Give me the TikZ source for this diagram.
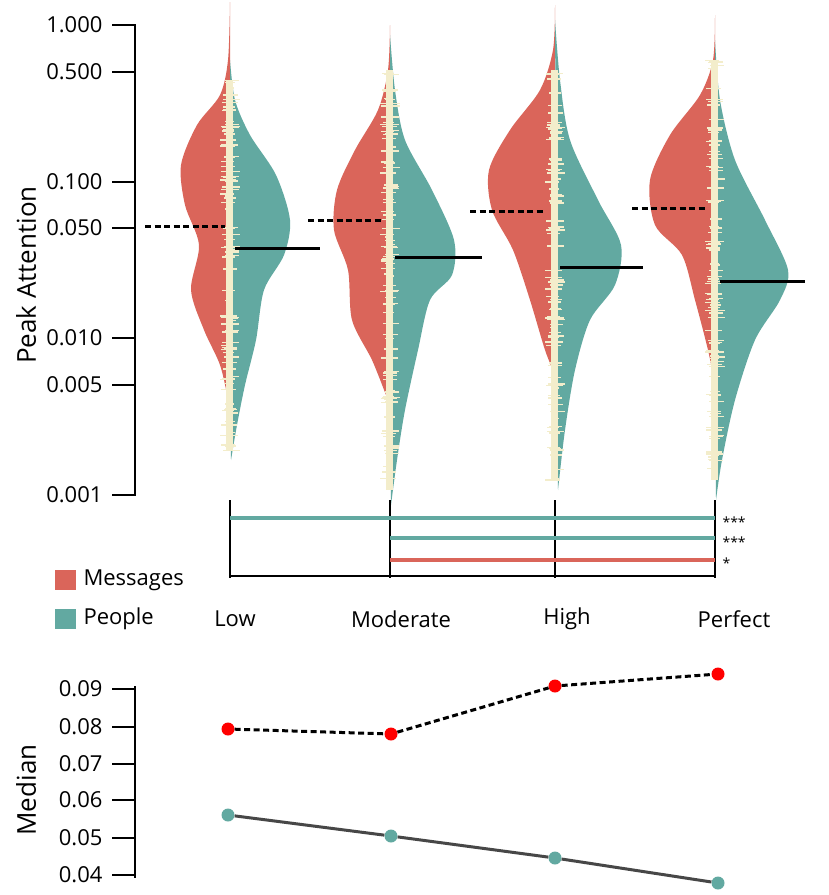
\documentclass[tikz,border=0pt]{standalone}
\usepackage{fontspec}
\setmainfont{Open Sans}
\usetikzlibrary{calc}
\definecolor{msgred}{HTML}{DA655A}
\definecolor{pplteal}{HTML}{62A9A1}
\definecolor{rugcream}{HTML}{F3EDCB}
\begin{document}
\begin{tikzpicture}[x=1pt,y=-1pt,font=\fontsize{22}{24}\selectfont,
        tick/.style={line width=2.2pt},
        axisline/.style={line width=2.4pt},
        medmsg/.style={line width=3pt,dash pattern=on 6pt off 3.5pt},
        medppl/.style={line width=3pt},
        sigbar/.style={line width=4pt},
        dotmsg/.style={circle,fill=red,inner sep=0pt,minimum size=13pt},
        dotppl/.style={circle,fill=pplteal,inner sep=0pt,minimum size=13pt}]
  \useasboundingbox (0,0) rectangle (829,895);
  \pgfmathsetseed{7}

  % upper axis
  \draw[axisline] (135,24) -- (135,496);
  \foreach \yy/\lab in {25/1.000,72/0.500,182/0.100,228/0.050,338/0.010,385/0.005,495/0.001}{
    \draw[tick] (112,\yy) -- (135,\yy);
    \node[anchor=east] (t\yy) at (106,\yy) {\lab};
  }
  \node[rotate=90,font=\fontsize{26}{28}\selectfont] (ylab) at (26,275) {Peak Attention};

  % violins
  \fill[msgred] plot[smooth] coordinates {(230,2) (228,60) (220,95) (197,125) (181,165) (185,205) (199,245) (191,290) (204,330) (220,365) (228,400) (230,420)} -- cycle;
  \fill[pplteal] plot[smooth] coordinates {(230,60) (235,100) (250,135) (276,175) (290,220) (284,255) (264,290) (256,340) (245,385) (237,425) (231,460)} -- cycle;

  \fill[msgred] plot[smooth] coordinates {(390,25) (388,70) (378,110) (355,150) (337,190) (334,230) (348,270) (352,320) (372,360) (386,395) (390,405)} -- cycle;
  \fill[pplteal] plot[smooth] coordinates {(390,35) (395,90) (405,140) (432,190) (454,240) (452,275) (430,300) (418,350) (405,410) (397,460) (391,505)} -- cycle;

  \fill[msgred] plot[smooth] coordinates {(555,5) (553,50) (540,90) (510,130) (489,170) (492,210) (513,250) (530,300) (545,350) (555,375)} -- cycle;
  \fill[pplteal] plot[smooth] coordinates {(555,20) (560,80) (570,140) (598,200) (621,245) (615,285) (590,320) (575,370) (565,430) (558,490)} -- cycle;

  \fill[msgred] plot[smooth] coordinates {(715,15) (713,60) (700,95) (670,135) (650,180) (655,225) (682,255) (695,300) (708,350) (715,385)} -- cycle;
  \fill[pplteal] plot[smooth] coordinates {(715,40) (720,100) (735,160) (765,220) (788,270) (780,300) (755,340) (735,400) (722,460) (716,500)} -- cycle;

  % rugs
  \foreach \cx/\ya/\yb in {230/80/450,390/70/490,555/70/480,715/60/480}{
    \fill[rugcream] (\cx-4,\ya) rectangle (\cx+3,\yb);
    \foreach \k in {1,...,90}{
      \pgfmathsetmacro{\ry}{\ya+rnd*(\yb-\ya)}
      \pgfmathsetmacro{\rl}{rnd*6+4}
      \pgfmathsetmacro{\rr}{rnd*7+3}
      \fill[rugcream] (\cx-\rl,\ry) rectangle (\cx+\rr,\ry+1.4);
    }
  }

  % medians
  \draw[medmsg] (145,226) -- (225,226);
  \draw[medppl] (235,248) -- (320,248);
  \draw[medmsg] (308,220) -- (383,220);
  \draw[medppl] (395,257) -- (482,257);
  \draw[medmsg] (470,211) -- (545,211);
  \draw[medppl] (560,267) -- (643,267);
  \draw[medmsg] (632,208) -- (706,208);
  \draw[medppl] (720,281) -- (805,281);

  % significance
  \foreach \cx in {230,390,555,715}
    \draw[tick] (\cx,500) -- (\cx,578);
  \draw[sigbar,pplteal] (230,518) -- (715,518);
  \draw[sigbar,pplteal] (390,538) -- (715,538);
  \draw[sigbar,msgred] (390,560) -- (715,560);
  \draw[tick] (230,576) -- (715,576);
  \node[anchor=west,font=\fontsize{14}{15}\selectfont] (s1) at (719,522) {***};
  \node[anchor=west,font=\fontsize{14}{15}\selectfont] (s2) at (719,542) {***};
  \node[anchor=west,font=\fontsize{14}{15}\selectfont] (s3) at (719,563) {*};

  % legend
  \fill[msgred] (55,570) rectangle (76,590);
  \node[anchor=west] (lm) at (80,580) {Messages};
  \fill[pplteal] (55,609) rectangle (76,629);
  \node[anchor=west] (lp) at (80,619) {People};

  \node (cLow) at (235,619) {Low};
  \node (cMod) at (401,619) {Moderate};
  \node (cHigh) at (567,619) {High};
  \node (cPerf) at (734,619) {Perfect};

  % lower chart
  \draw[axisline] (135,686) -- (135,878);
  \foreach \yy/\lab in {689/0.09,727/0.08,764/0.07,800/0.06,838/0.05,875/0.04}{
    \draw[tick] (112,\yy) -- (135,\yy);
    \node[anchor=east] (m\yy) at (106,\yy) {\lab};
  }
  \node[rotate=90,font=\fontsize{26}{28}\selectfont] (mlab) at (26,790) {Median};

  \node[dotmsg] (r1) at (228,729) {};
  \node[dotmsg] (r2) at (391,734) {};
  \node[dotmsg] (r3) at (555,686) {};
  \node[dotmsg] (r4) at (718,674) {};
  \node[dotppl] (p1) at (228,815) {};
  \node[dotppl] (p2) at (391,836) {};
  \node[dotppl] (p3) at (555,858) {};
  \node[dotppl] (p4) at (718,883) {};
  \draw[medmsg] (r1) -- (r2) -- (r3) -- (r4);
  \draw[medppl,black!72] (p1) -- (p2) -- (p3) -- (p4);
\end{tikzpicture}
\end{document}
